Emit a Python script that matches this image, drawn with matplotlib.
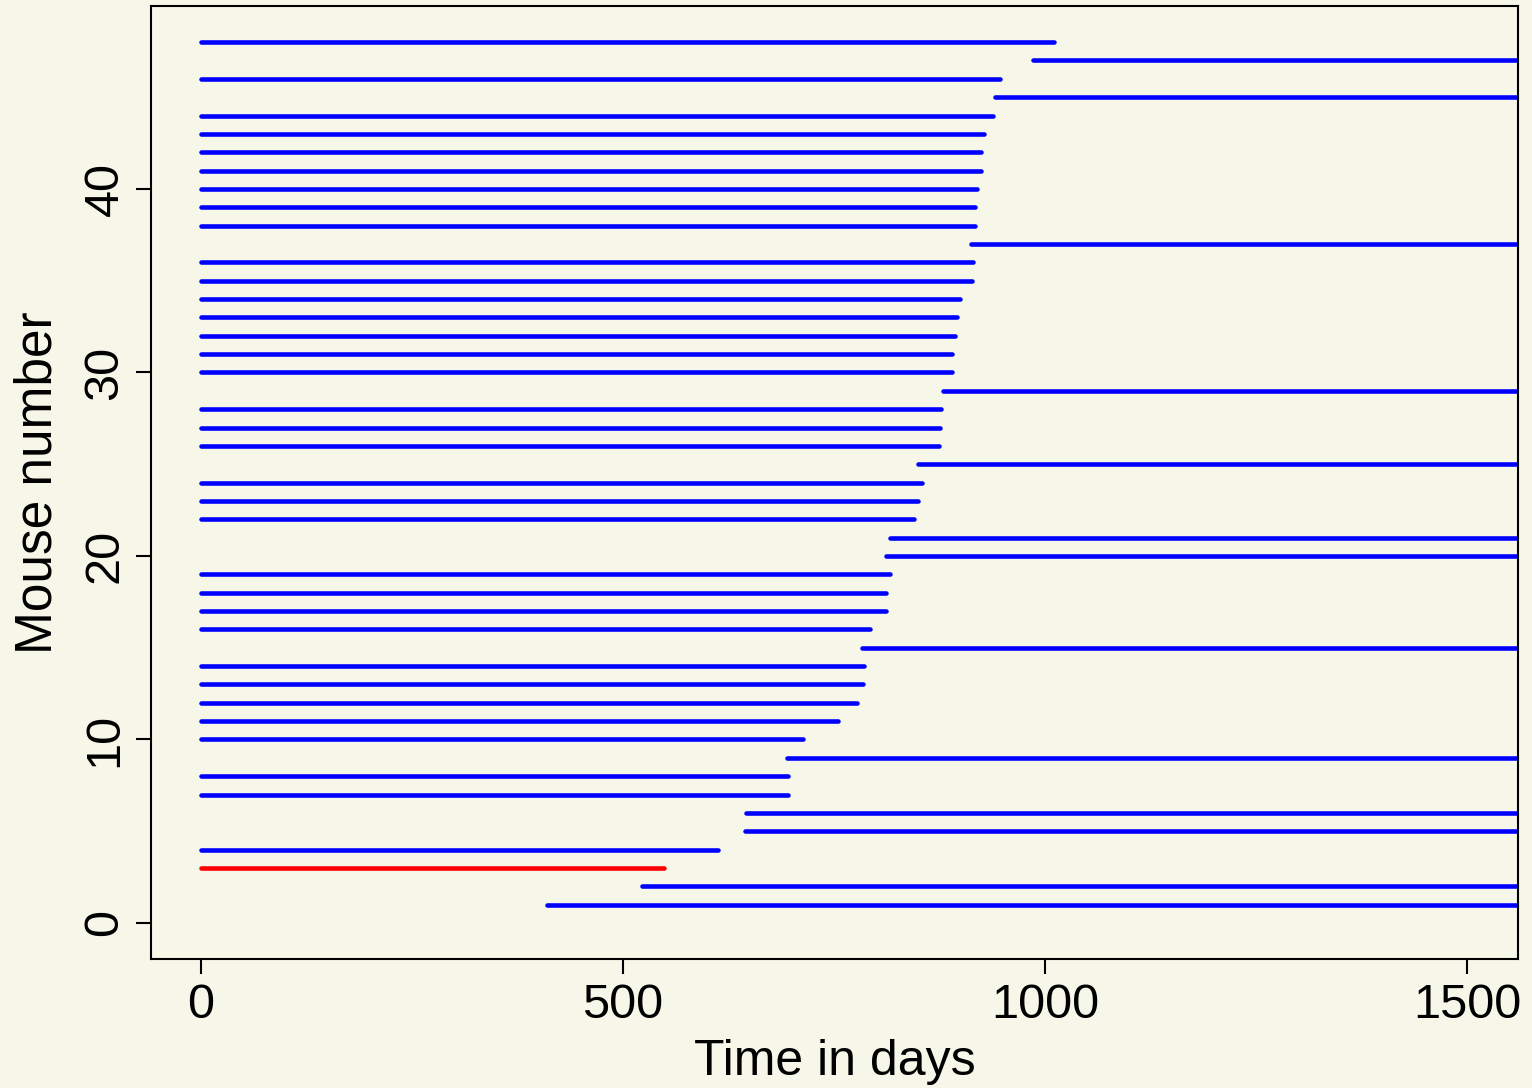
import numpy as np
import matplotlib.pyplot as plt

# mouse number, start day, end day (ends past 1560 run off the right edge)
mouse = list(range(1, 49))
start = [410, 522, 0, 0, 645, 646, 0, 0, 694, 0,
         0, 0, 0, 0, 783, 0, 0, 0, 0, 812,
         816, 0, 0, 0, 849, 0, 0, 0, 879, 0,
         0, 0, 0, 0, 0, 0, 912, 0, 0, 0,
         0, 0, 0, 0, 940, 0, 985, 0]
end = [1700, 1700, 548, 612, 1700, 1700, 695, 695, 1700, 713,
       754, 777, 784, 785, 1700, 792, 811, 812, 816, 1700,
       1700, 844, 849, 854, 1700, 874, 875, 877, 1700, 890,
       890, 893, 896, 899, 913, 915, 1700, 917, 917, 919,
       924, 924, 928, 938, 1700, 947, 1700, 1010]
red_mice = [3]

bg = '#f7f7e9'
plt.rcParams['font.family'] = ['Liberation Sans', 'DejaVu Sans']

fig = plt.figure(figsize=(15.32, 10.88), dpi=100, facecolor=bg)
ax = fig.add_axes([0.0986, 0.1186, 0.8923, 0.8759])
ax.set_facecolor(bg)

for m, s, e in zip(mouse, start, end):
    c = 'red' if m in red_mice else 'blue'
    ax.plot([s, e], [m, m], color=c, lw=3.3, solid_capstyle='round')

ax.set_xlim(-59, 1560)
ax.set_ylim(-1.96, 49.97)
ax.set_xticks([0, 500, 1000, 1500])
ax.set_yticks([0, 10, 20, 30, 40])
ax.tick_params(direction='out', length=11, width=1.5, labelsize=35, pad=6)
for lab in ax.get_yticklabels():
    lab.set_rotation(90)
    lab.set_va('center')
for sp in ax.spines.values():
    sp.set_linewidth(1.5)
ax.set_xlabel('Time in days', fontsize=36, labelpad=8)
ax.set_ylabel('Mouse number', fontsize=37, labelpad=14)

fig.savefig('out.png', dpi=100, facecolor=bg)
